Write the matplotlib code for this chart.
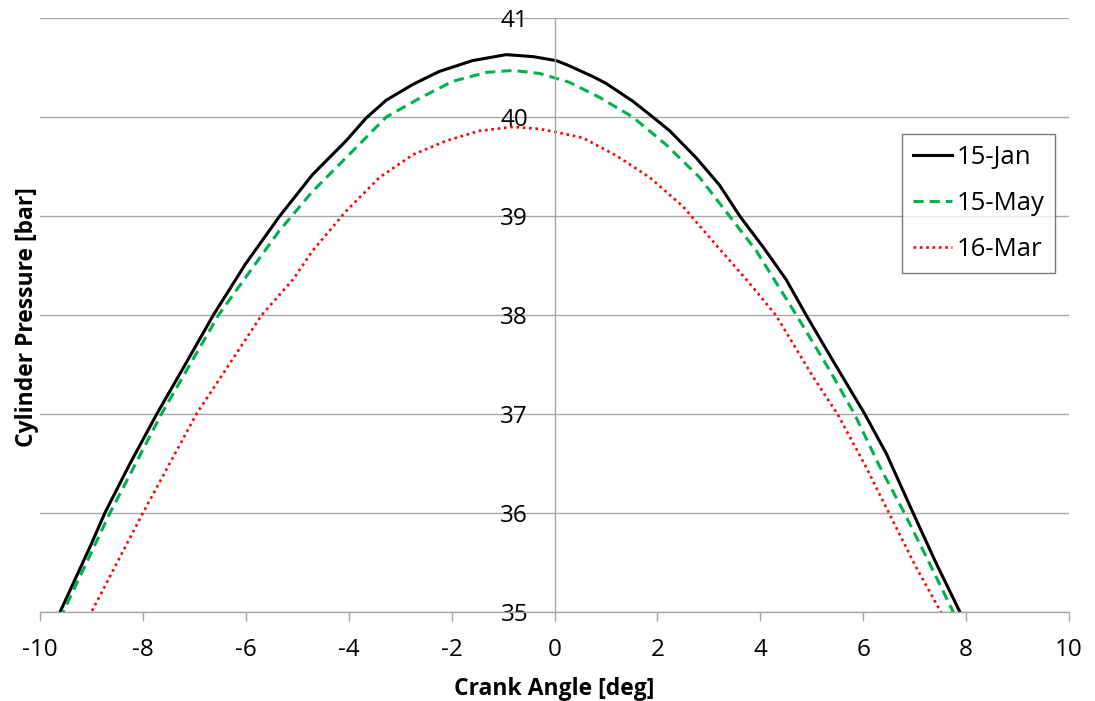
import matplotlib
matplotlib.use("Agg")
import matplotlib.pyplot as plt

plt.rcParams['font.family'] = ['Open Sans', 'DejaVu Sans']
plt.rcParams['axes.unicode_minus'] = False

# Data
jan_x = [-9.8, -9.61, -9.0, -8.74, -8.25, -7.73, -7.21, -6.63, -6.0, -5.34, -4.70,
         -4.05, -3.66, -3.27, -2.75, -2.24, -1.59, -0.94, -0.42, 0.03, 0.23, 0.74,
         1.0, 1.52, 1.91, 2.24, 2.75, 3.21, 3.60, 4.05, 4.50, 4.89, 5.41, 6.03,
         6.45, 6.97, 7.42, 7.88, 8.1]
jan_y = [34.78, 35.0, 35.69, 36.0, 36.5, 37.0, 37.47, 38.0, 38.52, 39.0, 39.42,
         39.76, 39.99, 40.17, 40.33, 40.46, 40.57, 40.63, 40.61, 40.57, 40.53, 40.41,
         40.34, 40.16, 40.0, 39.86, 39.59, 39.31, 39.0, 38.69, 38.36, 38.0, 37.54, 37.0,
         36.60, 36.0, 35.49, 35.0, 34.75]

may_x = [-9.75, -9.55, -8.64, -7.64, -6.53, -5.35, -4.70, -4.05, -3.27, -2.62,
         -1.98, -1.33, -0.81, -0.29, 0.1, 0.29, 0.87, 1.52, 2.17, 2.82, 3.40,
         3.92, 4.34, 4.70, 5.35, 5.83, 6.32, 6.80, 7.29, 7.75, 7.95]
may_y = [34.78, 35.0, 36.0, 37.0, 38.0, 38.85, 39.25, 39.59, 40.0, 40.19,
         40.36, 40.45, 40.47, 40.44, 40.38, 40.35, 40.2, 40.0, 39.72, 39.39, 39.0,
         38.65, 38.3, 38.0, 37.44, 37.0, 36.47, 36.0, 35.49, 35.0, 34.78]

mar_x = [-9.2, -9.0, -8.0, -6.96, -5.69, -5.08, -4.70, -4.05, -3.40, -2.75,
         -2.10, -1.46, -0.81, -0.29, 0.1, 0.55, 1.2, 1.85, 2.49, 3.27, 3.76,
         4.3, 5.02, 5.50, 6.05, 6.50, 7.02, 7.51, 7.7]
mar_y = [34.78, 35.0, 36.0, 37.0, 38.0, 38.36, 38.65, 39.05, 39.39, 39.62,
         39.76, 39.86, 39.90, 39.88, 39.84, 39.79, 39.61, 39.39, 39.10, 38.63, 38.34,
         38.0, 37.38, 37.0, 36.47, 36.0, 35.46, 35.0, 34.78]

series_labels = ['15-Jan', '15-May', '16-Mar']
x_ticks = [-10, -8, -6, -4, -2, 0, 2, 4, 6, 8, 10]
y_ticks = [35, 36, 37, 38, 39, 40, 41]

fig = plt.figure(figsize=(10.95, 7.01), dpi=100)
ax = fig.add_axes([40/1095, 1 - 612/701, 1029/1095, 594/701])

ax.plot(jan_x, jan_y, color='black', lw=2.2, linestyle='-', label=series_labels[0])
ax.plot(may_x, may_y, color='#00B050', lw=2.2, linestyle=(0, (3.3, 2.0)), label=series_labels[1])
ax.plot(mar_x, mar_y, color='#FF0000', lw=1.9, linestyle=(0, (1, 1.4)), label=series_labels[2])

ax.set_xlim(-10, 10)
ax.set_ylim(35, 41)
ax.set_xticks(x_ticks)
ax.set_yticks(y_ticks)

grid_c = '#A6A6A6'
ax.yaxis.grid(True, color=grid_c, lw=1.0)
ax.xaxis.grid(False)
ax.set_axisbelow(True)

for s in ['top', 'right']:
    ax.spines[s].set_visible(False)
ax.spines['left'].set_position(('data', 0))
ax.spines['left'].set_color(grid_c)
ax.spines['bottom'].set_color(grid_c)
ax.spines['left'].set_linewidth(1.0)
ax.spines['bottom'].set_linewidth(1.0)

ax.tick_params(axis='x', direction='out', length=6.5, width=1.0, color=grid_c,
               labelsize=17.5, pad=12)
ax.tick_params(axis='y', length=0, labelsize=17.5, pad=19)

ax.set_xlabel('Crank Angle [deg]', fontsize=16.5, fontweight='bold', labelpad=11)
fig.text(27/1095, 1 - 317/701, 'Cylinder Pressure [bar]', rotation=90,
         fontsize=16.5, fontweight='bold', ha='center', va='center')

leg = ax.legend(loc='upper left', bbox_to_anchor=(0.838, 0.805), borderaxespad=0,
                fontsize=18.5, frameon=True, fancybox=False, handlelength=1.5,
                handletextpad=0.2, labelspacing=0.82, borderpad=0.42)
leg.get_frame().set_edgecolor('#595959')
leg.get_frame().set_linewidth(1.0)

fig.savefig('out.png', dpi=100)
